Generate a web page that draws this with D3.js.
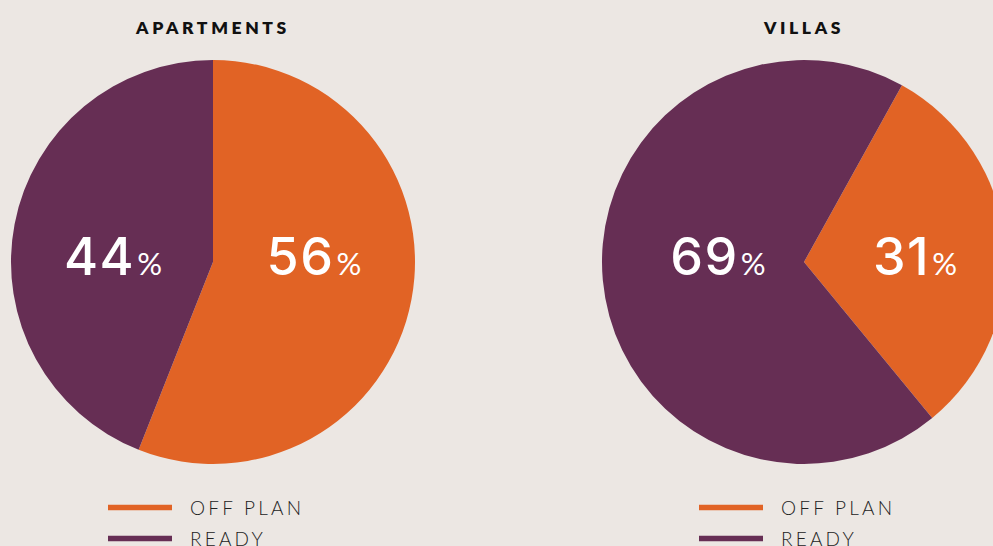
<!DOCTYPE html>
<html>
<head>
<meta charset="utf-8">
<script src="https://cdn.jsdelivr.net/npm/d3@7"></script>
<style>
  html, body { margin: 0; padding: 0; background: #ece7e3; }
  svg { display: block; }
</style>
</head>
<body>
<svg id="chart" width="993" height="546"></svg>
<script>
// ---- data ----
const charts = ["APARTMENTS", "VILLAS"];
const categories = ["OFF PLAN", "READY"];
const apartmentsValues = [56, 44];
const villasValues = [31, 69];
const colors = ["#e16325", "#662e54"];

// ---- layout ----
const W = 993, H = 546;
const svg = d3.select("#chart");
svg.append("rect").attr("width", W).attr("height", H).attr("fill", "#ece7e3");

const radius = 202;
const cy = 262;
const panels = [
  { title: charts[0], values: apartmentsValues, cx: 213, start: 0, labelDx: [101, -100] },
  { title: charts[1], values: villasValues, cx: 804, start: 29 * Math.PI / 180, labelDx: [111, -86] }
];

const color = d3.scaleOrdinal().domain(categories).range(colors);
const arc = d3.arc().innerRadius(0).outerRadius(radius);
const font = "Lato, 'Open Sans', sans-serif";
const numFont = "Inter, 'DejaVu Sans', sans-serif";

panels.forEach(p => {
  const data = categories.map((c, i) => ({ cat: c, value: p.values[i], idx: i }));
  const pie = d3.pie().value(d => d.value).sort(null)
    .startAngle(p.start).endAngle(p.start + 2 * Math.PI);
  const g = svg.append("g").attr("transform", `translate(${p.cx},${cy})`);

  g.selectAll("path").data(pie(data)).join("path")
    .attr("d", arc)
    .attr("fill", d => color(d.data.cat));

  // value labels
  const lbl = g.selectAll("text.val").data(pie(data)).join("text")
    .attr("class", "val")
    .attr("x", d => p.labelDx[d.data.idx])
    .attr("y", 13)
    .attr("text-anchor", "middle")
    .attr("fill", "#ffffff");
  lbl.append("tspan").attr("font-size", 52).attr("font-weight", 500)
    .attr("letter-spacing", 1.5)
    .style("font-family", numFont).text(d => d.data.value);
  lbl.append("tspan").attr("font-size", 31).attr("dx", 2).style("font-family", font).text("%");

  // title
  svg.append("text")
    .attr("x", p.cx).attr("y", 34)
    .attr("text-anchor", "middle")
    .attr("font-size", 17.5).attr("font-weight", 800)
    .attr("letter-spacing", 3.6)
    .attr("fill", "#111")
    .style("font-family", font)
    .text(p.title);

  // legend
  const lg = svg.append("g").attr("transform", `translate(${p.cx},0)`);
  const rows = lg.selectAll("g").data(categories).join("g")
    .attr("transform", (d, i) => `translate(0,${507.5 + i * 31})`);
  rows.append("line")
    .attr("x1", -105).attr("x2", -41)
    .attr("stroke", d => color(d)).attr("stroke-width", 5.5);
  rows.append("text")
    .attr("x", -23).attr("y", 7.5)
    .attr("font-size", 19).attr("font-weight", 300)
    .attr("letter-spacing", 3.2)
    .attr("fill", "#222")
    .style("font-family", font)
    .text(d => d);
});
</script>
</body>
</html>
